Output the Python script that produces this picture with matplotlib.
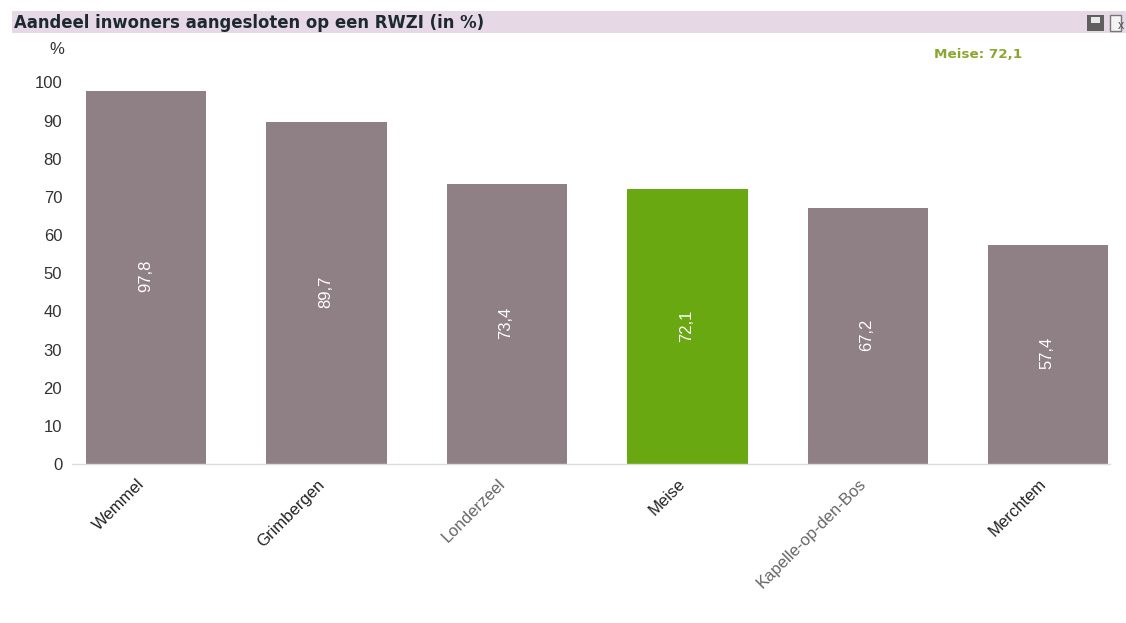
import matplotlib
matplotlib.use('Agg')
import matplotlib.pyplot as plt
from matplotlib.patches import Rectangle

gemeenten = ['Wemmel','Grimbergen','Londerzeel','Meise','Kapelle-op-den-Bos','Merchtem']
waarden = [97.8,89.7,73.4,72.1,67.2,57.4]
labels = ['97,8','89,7','73,4','72,1','67,2','57,4']
yticks = [0,10,20,30,40,50,60,70,80,90,100]

W,H = 1126,623
grey = '#8f8086'
green = '#6aa812'

fig = plt.figure(figsize=(W/100,H/100),dpi=100,facecolor='white')
plt.rcParams['font.family'] = ['Liberation Sans','DejaVu Sans']

# plot area in pixels
left,right,bottom,top = 56,1118,464,64
ax = fig.add_axes([left/W,1-bottom/H,(right-left)/W,(bottom-top)/H],frameon=False)
colors = [green if g=='Meise' else grey for g in gemeenten]
pos = list(range(len(gemeenten)))
ax.bar(pos,waarden,width=0.667,color=colors,linewidth=0)
ax.set_xlim(-0.5,-0.5+(right-left)/180.4)
ax.set_ylim(0,(bottom-top)/3.815)

ax.set_yticks(yticks)
ax.set_yticklabels(yticks,fontsize=12,color='#333333')
ax.tick_params(axis='y',length=0,pad=-4.5)
ax.set_xticks([])
ax.plot([-0.41,5.34],[0,0],color='#dddddd',lw=1,clip_on=False)

for p,v,l in zip(pos,waarden,labels):
    ax.text(p-0.005,v/2+0.3,l,rotation=90,ha='center',va='center',color='white',fontsize=12)

# rotated category labels, anchored at their upper right end
label_kleur = ['#222222','#222222','#666666','#222222','#666666','#222222']
for p,g,c in zip(pos,gemeenten,label_kleur):
    ax.annotate(g,xy=(p,0),xytext=(-7,-9),textcoords='offset points',rotation=45,
                rotation_mode='anchor',ha='right',va='top',fontsize=12,color=c,annotation_clip=False)

# title band
fig.patches.append(Rectangle((12/W,1-33/H),1114/W,22/H,transform=fig.transFigure,
                             facecolor='#e6d8e4',edgecolor='none'))
fig.text(14/W,1-23/H,'Aandeel inwoners aangesloten op een RWZI (in %)',fontsize=11.9,
         fontweight='bold',color='#1c2a30',va='center',family=['DejaVu Sans'])
fig.text(57/W,1-49/H,'%',fontsize=12,color='#333333',ha='center',va='center')
fig.text(978/W,1-54/H,'Meise: 72,1',fontsize=9.7,fontweight='bold',color='#8aa62c',
         ha='center',va='center',family=['DejaVu Sans'])

# save/export icons in the band
fig.patches.append(Rectangle((1087/W,1-31/H),17/W,16/H,transform=fig.transFigure,
                             facecolor='#5f5f5f',edgecolor='none'))
fig.patches.append(Rectangle((1091/W,1-23/H),9/W,6/H,transform=fig.transFigure,
                             facecolor='#e8e8e8',edgecolor='none'))
fig.patches.append(Rectangle((1110/W,1-31/H),11/W,16/H,transform=fig.transFigure,
                             facecolor='#f4f4f4',edgecolor='#777777',linewidth=1))
fig.text(1121/W,1-26/H,'x',fontsize=9,color='#555555',ha='center',va='center')

fig.savefig('out.png',dpi=100)
